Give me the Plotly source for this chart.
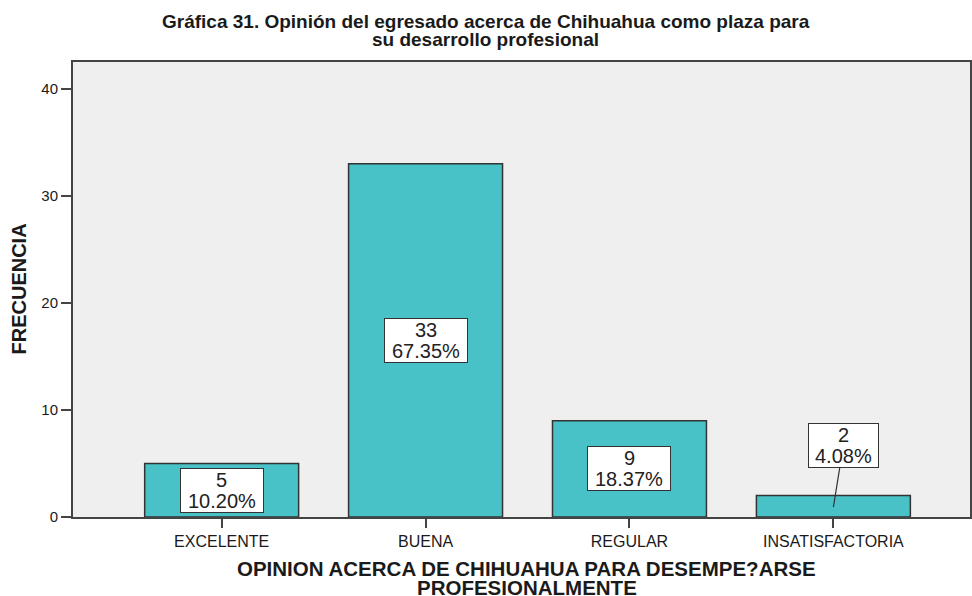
import plotly.graph_objects as go

categories = ["EXCELENTE", "BUENA", "REGULAR", "INSATISFACTORIA"]
counts = [5, 33, 9, 2]
percents = ["10.20%", "67.35%", "18.37%", "4.08%"]
y_ticks = [0, 10, 20, 30, 40]

title_lines = ["Gráfica 31. Opinión del egresado acerca de Chihuahua como plaza para",
               "su desarrollo profesional"]
x_title_lines = ["OPINION ACERCA DE CHIHUAHUA PARA DESEMPE?ARSE", "PROFESIONALMENTE"]
y_title = "FRECUENCIA"

FONT = "Liberation Sans, Arial, sans-serif"
TXT = "#1a1a1a"

xs = list(range(len(categories)))

fig = go.Figure()
fig.add_trace(go.Bar(
    x=xs, y=counts, width=0.755,
    marker=dict(color="#48C2C6", line=dict(color="#333333", width=1.5)),
    hoverinfo="skip",
))

annotations = []
LINE_GAP = 10.5
for i, (c, p) in enumerate(zip(counts, percents)):
    w = 13.7 * len(p)
    box = dict(x=i, xref="x", yref="y", text=" ",
               font=dict(family=FONT, size=12),
               bgcolor="white", bordercolor="#333333", borderwidth=1,
               borderpad=0, width=w, height=43)
    if c >= 5:
        y = c / 2
        annotations.append(dict(y=y, showarrow=False, **box))
        dx, dy = 0, 0
    else:
        y = 0.93
        dx, dy = 10, 62
        annotations.append(dict(y=y, showarrow=True, arrowhead=0,
                                arrowwidth=1.2, arrowcolor="#333333",
                                ax=dx, ay=-dy, **box))
    for line, sh in ((str(c), LINE_GAP), (p, -LINE_GAP)):
        annotations.append(dict(
            x=i, y=y, xref="x", yref="y", text=line, showarrow=False,
            xshift=dx, yshift=dy + sh, yanchor="middle",
            font=dict(family=FONT, size=20, color="#222222"),
        ))

# chart title (two lines)
for line, sh in zip(title_lines, (41, 23)):
    annotations.append(dict(
        x=0.5, y=1, xref="paper", yref="paper", text=f"<b>{line}</b>",
        showarrow=False, xshift=-36, yshift=sh, yanchor="middle",
        font=dict(family=FONT, size=19, color=TXT),
    ))

# x axis title (two lines)
for line, sh in zip(x_title_lines, (-51, -70)):
    annotations.append(dict(
        x=0.5, y=0, xref="paper", yref="paper", text=f"<b>{line}</b>",
        showarrow=False, xshift=5, yshift=sh, yanchor="middle",
        font=dict(family=FONT, size=20.5, color=TXT),
    ))

# y axis title
annotations.append(dict(
    x=0, y=0.5, xref="paper", yref="paper", text=f"<b>{y_title}</b>",
    showarrow=False, xshift=-55, textangle=-90, xanchor="center", yanchor="middle",
    font=dict(family=FONT, size=20, color=TXT),
))

fig.update_layout(
    width=972, height=596,
    margin=dict(l=73, r=0, t=62, b=79),
    paper_bgcolor="white", plot_bgcolor="#EFEFEF",
    showlegend=False,
    annotations=annotations,
    xaxis=dict(
        tickmode="array", tickvals=xs, ticktext=categories,
        range=[-0.729, 3.670],
        showline=True, linecolor="#444444", linewidth=2, mirror=True,
        ticks="outside", ticklen=9, tickcolor="#444444", tickwidth=1.5,
        tickfont=dict(family=FONT, size=16, color=TXT),
        showgrid=False, zeroline=False,
    ),
    yaxis=dict(
        range=[0, 42.5], tickvals=y_ticks,
        showline=True, linecolor="#444444", linewidth=2, mirror=True,
        ticks="outside", ticklen=10, tickcolor="#444444", tickwidth=1.5,
        tickfont=dict(family=FONT, size=15, color=TXT),
        showgrid=False, zeroline=False,
    ),
)

fig.write_html("out.html", config={"displayModeBar": False},
               post_script="document.body.style.margin='0';document.body.style.overflow='hidden';")
